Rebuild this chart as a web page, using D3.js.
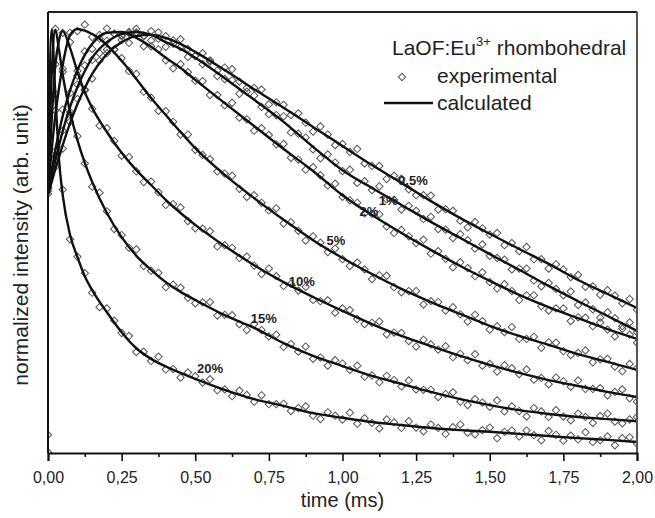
<!DOCTYPE html>
<html>
<head>
<meta charset="utf-8">
<script src="https://cdn.jsdelivr.net/npm/d3@7"></script>
<style>
  html, body { margin: 0; padding: 0; background: #fff; }
  svg { display: block; font-family: "Liberation Sans", Arial, sans-serif; }
</style>
</head>
<body>
<svg id="chart" width="655" height="518"></svg>
<script>
// Eu3+ luminescence rise/decay curves, LaOF rhombohedral, several Eu concentrations

// time grid of the calculated curves (ms)
const calcTimes = [0, 0.0125, 0.025, 0.0375, 0.05, 0.075, 0.1, 0.125, 0.15, 0.2, 0.25, 0.3, 0.35, 0.4, 0.45,
  0.5, 0.6, 0.7, 0.8, 0.9, 1.0, 1.1, 1.2, 1.3, 1.4, 1.5, 1.6, 1.7, 1.8, 1.9, 2.0];

const calc05 = [.608, .639, .670, .698, .726, .778, .823, .861, .894, .941, .969, .983, .986, .979, .965,
  .946, .903, .858, .814, .769, .724, .679, .637, .594, .554, .517, .481, .446, .408, .375, .342];
const calc1 = [.616, .653, .691, .726, .759, .816, .863, .901, .932, .969, .988, .993, .986, .969, .953,
  .932, .884, .833, .781, .722, .667, .625, .585, .545, .507, .469, .432, .394, .358, .323, .288];
const calc2 = [.620, .667, .715, .757, .795, .856, .903, .939, .965, .991, .993, .979, .958, .932, .908,
  .880, .825, .771, .717, .665, .608, .561, .519, .479, .441, .406, .373, .344, .318, .292, .269];
const calc5 = [.620, .715, .797, .861, .915, .986, 1.0, .996, .988, .962, .925, .882, .837, .797, .757,
  .719, .656, .601, .550, .502, .460, .422, .387, .356, .328, .300, .276, .255, .233, .215, .196];
const calc10 = [.620, .785, .915, .974, .995, .955, .899, .851, .814, .757, .708, .667, .632, .597, .566,
  .538, .488, .443, .403, .368, .335, .304, .276, .252, .229, .208, .189, .172, .158, .144, .132];
const calc15 = [.625, .892, .998, .950, .892, .804, .738, .684, .639, .566, .509, .465, .432, .403, .380,
  .361, .325, .295, .259, .229, .205, .182, .163, .144, .127, .113, .101, .092, .085, .080, .075];
const calc20 = [.632, .998, .844, .691, .608, .514, .462, .417, .384, .332, .285, .247, .222, .204, .189,
  .175, .149, .127, .111, .094, .083, .073, .066, .059, .054, .050, .045, .040, .035, .031, .026];

// time grid of the experimental points (ms)
const expTimes = [0, 0.025, 0.05, 0.075, 0.1, 0.125, 0.15, 0.175, 0.2, 0.225, 0.25, 0.275, 0.3, 0.325, 0.35,
  0.375, 0.4, 0.425, 0.45, 0.475, 0.5, 0.525, 0.55, 0.575, 0.6, 0.625, 0.65, 0.675, 0.7, 0.725, 0.75, 0.775,
  0.8, 0.825, 0.85, 0.875, 0.9, 0.925, 0.95, 0.975, 1.0, 1.025, 1.05, 1.075, 1.1, 1.125, 1.15, 1.175, 1.2,
  1.225, 1.25, 1.275, 1.3, 1.325, 1.35, 1.375, 1.4, 1.425, 1.45, 1.475, 1.5, 1.525, 1.55, 1.575, 1.6, 1.625,
  1.65, 1.675, 1.7, 1.725, 1.75, 1.775, 1.8, 1.825, 1.85, 1.875, 1.9, 1.925, 1.95, 1.975, 2.0];

const exp05 = [.043, .675, .718, .781, .835, .855, .883, .925, .943, .951, .983, .967, .989, .983, .973, .992,
  .983, .965, .976, .953, .936, .943, .926, .902, .909, .905, .876, .861, .861, .857, .822, .827, .821, .797,
  .801, .779, .758, .770, .751, .726, .729, .710, .717, .683, .677, .677, .646, .654, .647, .622, .608, .608,
  .607, .574, .575, .571, .548, .532, .545, .530, .515, .519, .490, .495, .476, .486, .457, .457, .435, .445,
  .433, .415, .420, .392, .393, .373, .384, .371, .353, .363, .338];
const exp1 = [.002, .699, .760, .804, .869, .914, .927, .943, .972, .989, .974, .993, 1.0, .984, .995, .977,
  .958, .973, .957, .934, .937, .917, .923, .889, .882, .879, .847, .852, .843, .816, .799, .797, .794, .756,
  .753, .744, .716, .695, .704, .685, .665, .668, .637, .641, .620, .629, .598, .597, .574, .583, .571, .552,
  .557, .528, .527, .507, .516, .502, .482, .492, .465, .460, .456, .433, .435, .435, .407, .393, .401, .387,
  .372, .381, .349, .355, .339, .319, .332, .318, .299, .308, .285];
const exp2 = [.625, .712, .810, .849, .901, .947, .953, .986, 1.001, .989, .985, .990, .992, .959, .959, .952,
  .926, .907, .917, .898, .878, .877, .844, .844, .820, .826, .791, .787, .760, .766, .750, .728, .729, .696,
  .692, .668, .674, .655, .631, .635, .604, .596, .590, .565, .564, .563, .534, .519, .526, .511, .495, .503,
  .470, .476, .458, .438, .450, .436, .417, .426, .403, .388, .398, .382, .361, .372, .372, .346, .336, .341,
  .341, .311, .320, .319, .299, .308, .291, .275, .293, .279, .260];
const exp5 = [.618, .808, .906, .991, .995, 1.010, .981, .977, .951, .952, .931, .901, .894, .852, .838, .807,
  .806, .781, .751, .751, .715, .703, .693, .664, .659, .654, .623, .604, .608, .590, .572, .577, .541, .544,
  .524, .501, .511, .496, .474, .482, .457, .441, .449, .433, .410, .419, .418, .391, .379, .382, .382, .350,
  .358, .356, .336, .344, .327, .310, .326, .311, .291, .299, .285, .297, .269, .269, .274, .248, .261, .260,
  .240, .231, .236, .242, .214, .221, .222, .204, .193, .210, .200];
const exp10 = [.627, .917, .991, .969, .890, .857, .812, .772, .766, .736, .701, .698, .664, .639, .640, .615,
  .585, .587, .579, .547, .530, .529, .523, .487, .490, .484, .460, .463, .442, .422, .435, .417, .394, .399,
  .383, .392, .361, .358, .360, .331, .341, .337, .316, .304, .307, .310, .280, .284, .283, .264, .251, .267,
  .256, .244, .252, .226, .234, .219, .233, .206, .210, .192, .207, .200, .186, .197, .173, .177, .162, .178,
  .169, .156, .171, .151, .151, .153, .136, .144, .150, .129, .121];
const exp15 = [.611, 1.0, .899, .798, .747, .683, .628, .614, .570, .528, .514, .484, .480, .441, .430, .425,
  .391, .397, .390, .366, .353, .355, .356, .324, .326, .325, .304, .290, .304, .290, .275, .279, .250, .257,
  .239, .251, .222, .225, .206, .219, .211, .196, .206, .180, .183, .167, .182, .172, .157, .171, .150, .149,
  .149, .132, .139, .143, .121, .113, .127, .119, .109, .124, .098, .110, .099, .086, .106, .098, .085, .101,
  .086, .077, .093, .085, .071, .087, .093, .074, .070, .079, .085];
const exp20 = [.624, .847, .621, .504, .463, .424, .378, .344, .341, .312, .283, .276, .238, .239, .217, .227,
  .197, .198, .178, .190, .181, .166, .174, .148, .150, .134, .147, .137, .121, .136, .115, .115, .116, .099,
  .106, .110, .088, .080, .096, .088, .079, .095, .069, .082, .071, .058, .079, .072, .059, .075, .060, .051,
  .067, .059, .045, .061, .067, .048, .044, .054, .060, .035, .050, .053, .039, .053, .042, .030, .052, .043,
  .029, .041, .032, .049, .026, .030, .039, .018, .035, .037, .022];

// concentration labels and where they sit (time, intensity of baseline)
const labelNames = ["0,5%", "1%", "2%", "5%", "10%", "15%", "20%"];
const labelT = [1.239, 1.155, 1.090, 0.978, 0.862, 0.733, 0.550];
const labelV = [0.632, 0.585, 0.559, 0.491, 0.394, 0.307, 0.189];

const calcSeries = [calc05, calc1, calc2, calc5, calc10, calc15, calc20];
const expSeries = [exp05, exp1, exp2, exp5, exp10, exp15, exp20];

// axis ticks
const xMajor = [0, 0.25, 0.5, 0.75, 1.0, 1.25, 1.5, 1.75, 2.0];
const xMinor = [0.125, 0.375, 0.625, 0.875, 1.125, 1.375, 1.625, 1.875];

const svg = d3.select('#chart');
const x = d3.scaleLinear().domain([0, 2]).range([48, 637]);
const y = d3.scaleLinear().domain([0, 1.04]).range([453, 12]);

const comma = d3.formatLocale({decimal: ',', thousands: '.', grouping: [3], currency: ['', '']}).format('.2f');

svg.append('defs').append('clipPath').attr('id', 'plot-clip')
    .append('rect')
    .attr('x', x(0)).attr('y', y(1.04))
    .attr('width', x(2) - x(0)).attr('height', y(0) - y(1.04));

const plot = svg.append('g').attr('clip-path', 'url(#plot-clip)');

// experimental points: open diamonds
const diamond = d3.symbol(d3.symbolSquare, 27);
expSeries.forEach(vals => {
    plot.append('g')
        .selectAll('path')
        .data(vals)
        .enter()
        .append('path')
        .attr('d', diamond)
        .attr('transform', (d, i) => `translate(${x(expTimes[i])},${y(d)}) rotate(45)`)
        .attr('fill', 'none')
        .attr('stroke', '#555')
        .attr('stroke-width', 1);
});

// calculated curves
const line = d3.line()
    .x((d, i) => x(calcTimes[i]))
    .y(d => y(d))
    .curve(d3.curveMonotoneX);

calcSeries.forEach(vals => {
    plot.append('path')
        .datum(vals)
        .attr('d', line)
        .attr('fill', 'none')
        .attr('stroke', '#111')
        .attr('stroke-width', 2.4);
});

// concentration labels
svg.append('g')
    .selectAll('text')
    .data(labelNames)
    .enter()
    .append('text')
    .attr('x', (d, i) => x(labelT[i]))
    .attr('y', (d, i) => y(labelV[i]))
    .attr('text-anchor', 'middle')
    .attr('font-size', 13)
    .attr('font-weight', 'bold')
    .attr('fill', '#222')
    .text(d => d);

// frame
svg.append('line').attr('x1', x(0)).attr('x2', x(2)).attr('y1', y(1.04)).attr('y2', y(1.04))
    .attr('stroke', '#222').attr('stroke-width', 2);
svg.append('line').attr('x1', x(2)).attr('x2', x(2)).attr('y1', y(1.04)).attr('y2', y(0))
    .attr('stroke', '#555').attr('stroke-width', 2);
svg.append('line').attr('x1', x(0)).attr('x2', x(0)).attr('y1', y(1.04)).attr('y2', y(0))
    .attr('stroke', '#111').attr('stroke-width', 2);

// x axis, major ticks with labels then minor ticks
const xAxis = svg.append('g')
    .attr('transform', `translate(0,${y(0)})`)
    .call(d3.axisBottom(x).tickValues(xMajor).tickSize(8).tickPadding(11).tickFormat(comma));
xAxis.select('.domain').attr('stroke', '#111').attr('stroke-width', 2);
xAxis.selectAll('.tick line').attr('stroke', '#111').attr('stroke-width', 1.6);
xAxis.selectAll('.tick text')
    .attr('font-size', 16)
    .attr('font-family', '"Liberation Sans", Arial, sans-serif')
    .attr('fill', '#222');

const xMinorAxis = svg.append('g')
    .attr('transform', `translate(0,${y(0)})`)
    .call(d3.axisBottom(x).tickValues(xMinor).tickSize(4).tickFormat(''));
xMinorAxis.select('.domain').remove();
xMinorAxis.selectAll('.tick line').attr('stroke', '#111').attr('stroke-width', 1.6);

// axis titles
svg.append('text')
    .attr('x', (x(0) + x(2)) / 2)
    .attr('y', 507)
    .attr('text-anchor', 'middle')
    .attr('font-size', 20)
    .attr('fill', '#222')
    .text('time (ms)');

svg.append('text')
    .attr('transform', 'translate(28,245) rotate(-90)')
    .attr('text-anchor', 'middle')
    .attr('font-size', 21)
    .attr('fill', '#222')
    .text('normalized intensity (arb. unit)');

// legend
const legend = svg.append('g');
const title = legend.append('text')
    .attr('x', 392).attr('y', 55)
    .attr('font-size', 21)
    .attr('fill', '#222');
title.append('tspan').text('LaOF:Eu');
title.append('tspan').attr('font-size', 13).attr('dy', -9).text('3+');
title.append('tspan').attr('dy', 9).text(' rhombohedral');

legend.append('path')
    .attr('d', diamond)
    .attr('transform', 'translate(402,77) rotate(45)')
    .attr('fill', 'none')
    .attr('stroke', '#555')
    .attr('stroke-width', 1);
legend.append('text')
    .attr('x', 437).attr('y', 83)
    .attr('font-size', 21)
    .attr('fill', '#222')
    .text('experimental');

legend.append('line')
    .attr('x1', 384).attr('x2', 433).attr('y1', 103).attr('y2', 103)
    .attr('stroke', '#111').attr('stroke-width', 2.4);
legend.append('text')
    .attr('x', 437).attr('y', 110)
    .attr('font-size', 21)
    .attr('fill', '#222')
    .text('calculated');
</script>
</body>
</html>
